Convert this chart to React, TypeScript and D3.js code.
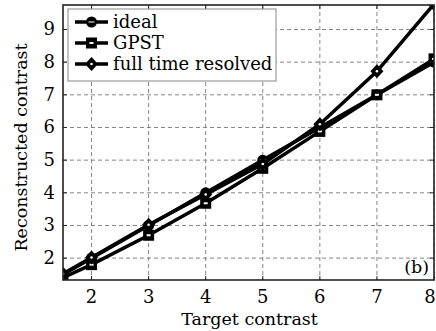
import React from "react";
import * as d3 from "d3";

const targets = [1.5, 2, 3, 4, 5, 6, 7, 8];
const ideal = [1.5, 2, 3, 4, 5, 6, 7, 8];
const gpst = [1.4, 1.8, 2.7, 3.68, 4.75, 5.88, 7.0, 8.1];
const fullTR = [1.52, 2.02, 3.02, 3.95, 4.88, 6.1, 7.72, 9.78];
const xTicks = [2, 3, 4, 5, 6, 7, 8];
const yTicks = [2, 3, 4, 5, 6, 7, 8, 9];
const seriesNames = ["ideal", "GPST", "full time resolved"];

const W = 436, H = 331;
const M = { left: 63, right: 2, top: 5, bottom: 51 };
const FONT = "'DejaVu Serif', serif";

function Marker({ kind, x, y }: { kind: string; x: number; y: number }) {
  const s = 5.5;
  if (kind === "circle") {
    return (
      <g>
        <circle cx={x} cy={y} r={s} fill="#000" />
        <line x1={x - 3} x2={x + 3} y1={y} y2={y} stroke="#fff" strokeWidth={1} />
      </g>
    );
  }
  if (kind === "square") {
    return (
      <g>
        <rect x={x - s} y={y - s} width={2 * s} height={2 * s} fill="#000" />
        <rect x={x - 2} y={y - 1} width={4} height={2} fill="#fff" />
      </g>
    );
  }
  return (
    <g>
      <path d={`M${x},${y - 7}L${x + 6.5},${y}L${x},${y + 7}L${x - 6.5},${y}Z`} fill="#000" />
      <circle cx={x} cy={y} r={1.3} fill="#fff" />
    </g>
  );
}

export default function App() {
  const x = d3.scaleLinear().domain([1.5, 8]).range([M.left, W - M.right]);
  const y = d3.scaleLinear().domain([1.33, 9.75]).range([H - M.bottom, M.top]);
  const line = d3
    .line<[number, number]>()
    .x((d) => x(d[0]))
    .y((d) => y(d[1]));
  const series = [
    { name: seriesNames[0], vals: ideal, kind: "circle" },
    { name: seriesNames[1], vals: gpst, kind: "square" },
    { name: seriesNames[2], vals: fullTR, kind: "diamond" },
  ];
  const x0 = M.left, x1 = W - M.right, y0 = M.top, y1 = H - M.bottom;
  return (
    <svg width={W} height={H} style={{ position: "absolute", left: 0, top: 0 }}>
      <rect width={W} height={H} fill="#fff" />
      <defs>
        <clipPath id="clip">
          <rect x={x0} y={y0} width={x1 - x0} height={y1 - y0} />
        </clipPath>
      </defs>
      {xTicks.map((t) => (
        <line key={"gx" + t} x1={x(t)} x2={x(t)} y1={y0} y2={y1} stroke="#777" strokeDasharray="4,3" strokeWidth={0.9} />
      ))}
      {yTicks.map((t) => (
        <line key={"gy" + t} x1={x0} x2={x1} y1={y(t)} y2={y(t)} stroke="#777" strokeDasharray="4,3" strokeWidth={0.9} />
      ))}
      <g clipPath="url(#clip)">
        {series.map((s) => (
          <path
            key={s.name}
            d={line(targets.map((t, i) => [t, s.vals[i]]) as [number, number][]) || ""}
            fill="none"
            stroke="#000"
            strokeWidth={3.5}
          />
        ))}
        {series.map((s) =>
          targets.map((t, i) => <Marker key={s.name + i} kind={s.kind} x={x(t)} y={y(s.vals[i])} />)
        )}
      </g>
      <rect x={x0} y={y0} width={x1 - x0} height={y1 - y0} fill="none" stroke="#222" strokeWidth={1.6} />
      {xTicks.map((t) => (
        <g key={"tx" + t}>
          <line x1={x(t)} x2={x(t)} y1={y1} y2={y1 - 4} stroke="#222" />
          <line x1={x(t)} x2={x(t)} y1={y0} y2={y0 + 4} stroke="#222" />
          <text x={x(t) - (t === 8 ? 4 : 0)} y={y1 + 23} textAnchor="middle" fontFamily={FONT} fontSize={18}>
            {t}
          </text>
        </g>
      ))}
      {yTicks.map((t) => (
        <g key={"ty" + t}>
          <line x1={x0} x2={x0 + 4} y1={y(t)} y2={y(t)} stroke="#222" />
          <line x1={x1} x2={x1 - 4} y1={y(t)} y2={y(t)} stroke="#222" />
          <text x={x0 - 8} y={y(t) + 6} textAnchor="end" fontFamily={FONT} fontSize={18}>
            {t}
          </text>
        </g>
      ))}
      <text x={(x0 + x1) / 2 + 1} y={H - 6} textAnchor="middle" fontFamily={FONT} fontSize={17.5}>
        Target contrast
      </text>
      <text
        transform={`translate(27,${(y0 + y1) / 2 + 5}) rotate(-90)`}
        textAnchor="middle"
        fontFamily={FONT}
        fontSize={17.5}
      >
        Reconstructed contrast
      </text>
      <text x={x1 - 5} y={y1 - 7} textAnchor="end" fontFamily={FONT} fontSize={17.5}>
        (b)
      </text>
      <g>
        <rect x={68} y={9} width={208} height={72} fill="#fff" stroke="#888" strokeWidth={1} />
        {series.map((s, i) => {
          const ly = 22 + i * 21;
          return (
            <g key={"lg" + s.name}>
              <line x1={75} x2={108} y1={ly} y2={ly} stroke="#000" strokeWidth={3.5} />
              <Marker kind={s.kind} x={91.5} y={ly} />
              <text x={113} y={ly + 6} fontFamily={FONT} fontSize={18}>
                {s.name}
              </text>
            </g>
          );
        })}
      </g>
    </svg>
  );
}
